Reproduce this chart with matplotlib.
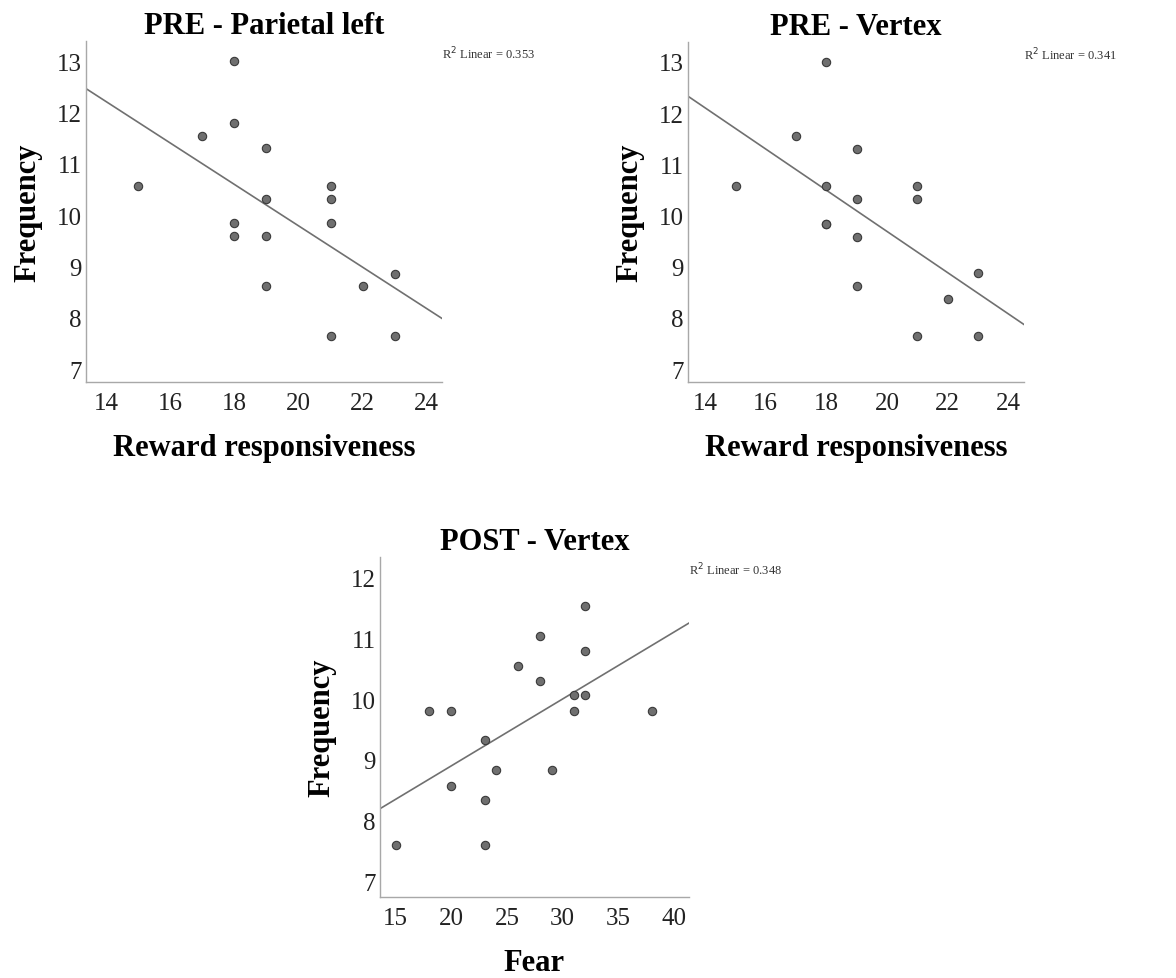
import numpy as np
import matplotlib
matplotlib.use("Agg")
import matplotlib.pyplot as plt

plt.rcParams['font.family'] = ['Liberation Serif', 'DejaVu Serif']

# PRE - Parietal left
reward_pl = [15, 17, 18, 18, 18, 18, 19, 19, 19, 19, 21, 21, 21, 21, 22, 23, 23]
freq_pl = [10.57, 11.54, 13.0, 11.79, 9.84, 9.6, 11.3, 10.32, 9.6, 8.62,
           10.57, 10.32, 9.84, 7.65, 8.62, 8.86, 7.65]

# PRE - Vertex
reward_vx = [15, 17, 18, 18, 18, 18, 19, 19, 19, 19, 21, 21, 21, 22, 23, 23]
freq_vx = [10.57, 11.55, 13.0, 10.57, 9.84, 9.84, 11.3, 10.33, 9.59, 8.62,
           10.57, 10.33, 7.65, 8.38, 8.87, 7.65]

# POST - Vertex
fear_post = [15, 18, 20, 20, 23, 23, 23, 24, 26, 28, 28, 29, 31, 31, 32, 32, 32, 38]
freq_post = [7.61, 9.81, 9.81, 8.58, 9.32, 8.34, 7.61, 8.83, 10.54, 11.03,
             10.3, 8.83, 10.06, 9.81, 11.52, 10.79, 10.06, 9.81]

titles = ['PRE - Parietal left', 'PRE - Vertex', 'POST - Vertex']
xlabels = ['Reward responsiveness', 'Reward responsiveness', 'Fear']
r2_labels = ['R$^2$ Linear = 0.353', 'R$^2$ Linear = 0.341', 'R$^2$ Linear = 0.348']

fig = plt.figure(figsize=(11.76, 9.79), dpi=100)

panels = [
    dict(rect=[0.0731, 0.6088, 0.3027, 0.3483], x=reward_pl, y=freq_pl,
         xlim=(13.38, 24.47), ylim=(6.75, 13.39), xticks=range(14, 25, 2), yticks=range(7, 14)),
    dict(rect=[0.585, 0.6088, 0.2857, 0.3473], x=reward_vx, y=freq_vx,
         xlim=(13.43, 24.52), ylim=(6.75, 13.39), xticks=range(14, 25, 2), yticks=range(7, 14)),
    dict(rect=[0.3231, 0.0827, 0.2628, 0.3473], x=fear_post, y=freq_post,
         xlim=(13.59, 41.35), ylim=(6.75, 12.33), xticks=range(15, 41, 5), yticks=range(7, 13)),
]

for i, p in enumerate(panels):
    ax = fig.add_axes(p['rect'])
    x = np.array(p['x'], dtype=float)
    y = np.array(p['y'], dtype=float)

    # fit line across the whole x range, like SPSS does
    slope, icpt = np.polyfit(x, y, 1)
    xs = np.array(p['xlim'])
    ax.plot(xs, slope * xs + icpt, color='#707070', lw=1.2, zorder=2)

    ax.scatter(x, y, s=36, color='#6f6f6f', edgecolors='#3a3a3a', linewidths=0.8, zorder=3)

    ax.set_xlim(p['xlim'])
    ax.set_ylim(p['ylim'])
    ax.set_xticks(list(p['xticks']))
    ax.set_yticks(list(p['yticks']))
    ax.tick_params(length=0, labelsize=18, colors='#222222')
    ax.tick_params(axis='x', pad=7)
    ax.tick_params(axis='y', pad=3)

    for s in ['top', 'right']:
        ax.spines[s].set_visible(False)
    for s in ['left', 'bottom']:
        ax.spines[s].set_color('#a8a8a8')
        ax.spines[s].set_linewidth(1.0)

    ax.set_title(titles[i], fontsize=22, fontweight='bold', pad=6)
    ax.set_xlabel(xlabels[i], fontsize=22, fontweight='bold', labelpad=14)
    ax.set_ylabel('Frequency', fontsize=22, fontweight='bold', labelpad=10)
    ax.text(1.0, 0.965, r2_labels[i], transform=ax.transAxes, fontsize=9,
            ha='left', va='center', color='#333333')

fig.savefig('out.png', dpi=100)
